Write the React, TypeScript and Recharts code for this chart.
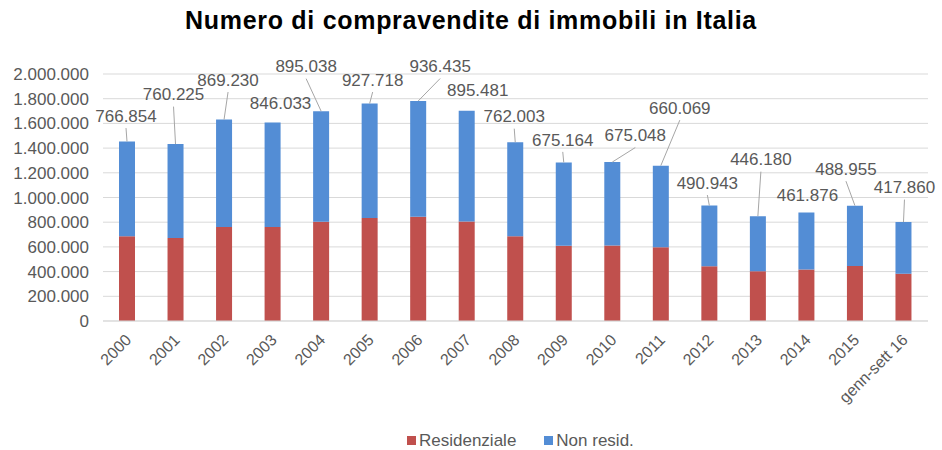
import { Bar, BarChart, CartesianGrid, LabelList, Legend, XAxis, YAxis } from "recharts";

const years = [
  "2000", "2001", "2002", "2003", "2004", "2005", "2006", "2007", "2008",
  "2009", "2010", "2011", "2012", "2013", "2014", "2015", "genn-sett 16",
];
const residenziale = [
  686000, 672000, 762000, 762000, 804000, 833000, 845000, 806000, 686000,
  609000, 612000, 598000, 444000, 403000, 417000, 445000, 383000,
];
const nonResid = [
  766854, 760225, 869230, 846033, 895038, 927718, 936435, 895481, 762003,
  675164, 675048, 660069, 490943, 446180, 461876, 488955, 417860,
];
const yTicks = [0, 200000, 400000, 600000, 800000, 1000000, 1200000, 1400000, 1600000, 1800000, 2000000];

// where each value label sits, measured from the top of its bar (dx, dy to the label centre)
const labelOffsets: [number, number][] = [
  [-1, -26], [-2, -50], [4, -40], [8, -20], [-15, -45], [3, -24], [22, -35], [11, -21], [-1, -26],
  [-1, -23], [23, -27], [19, -58], [-2, -23], [3, -57], [1, -18], [-9, -37], [1, -35],
];

const data = years.map((name, i) => ({ name, res: residenziale[i], non: nonResid[i] }));

const RED = "#C0504D";
const BLUE = "#538DD5";
const TEXT = "#595959";

// no scrollbars, no body margin: the chart fills the window
document.documentElement.style.overflow = "hidden";
document.body.style.margin = "0";
document.body.style.overflow = "hidden";

const fmt = (v: number) => String(v).replace(/\B(?=(\d{3})+(?!\d))/g, ".");

function ValueLabel(props: any) {
  const vb = props.viewBox ?? props;
  const x = Number(vb.x ?? props.x);
  const y = Number(vb.y ?? props.y);
  const width = Number(vb.width ?? props.width);
  const { value, index } = props;
  const [dx, dy] = labelOffsets[index] ?? [0, -20];
  const cx = x + width / 2;
  const tx = cx + dx;
  const ty = y + dy;
  const lineEnd = ty + 12.5;
  const showLine = y - lineEnd > 8.5;
  return (
    <g>
      {showLine && <line x1={cx} y1={y} x2={tx} y2={lineEnd} stroke="#A6A6A6" strokeWidth={1} />}
      <text x={tx} y={ty} dy="0.36em" textAnchor="middle" fontSize={17} fill={TEXT}>
        {fmt(Number(value))}
      </text>
    </g>
  );
}

function YearTick({ x, y, payload }: any) {
  return (
    <g transform={`translate(${x + 5},${y + 20})`}>
      <text x={0} y={0} textAnchor="end" transform="rotate(-45)" fontSize={16} fill={TEXT}>
        {payload.value}
      </text>
    </g>
  );
}

function LegendBox() {
  const items = [
    { label: "Residenziale", color: RED },
    { label: "Non resid.", color: BLUE },
  ];
  return (
    <div
      style={{
        width: 928,
        height: 24,
        display: "flex",
        alignItems: "center",
        paddingLeft: 407,
        paddingTop: 4,
        boxSizing: "border-box",
        fontSize: 17,
        lineHeight: "19px",
        color: TEXT,
        gap: 28,
      }}
    >
      {items.map((it) => (
        <span key={it.label} style={{ display: "flex", alignItems: "center" }}>
          <span style={{ width: 9, height: 9, background: it.color, marginRight: 3 }} />
          {it.label}
        </span>
      ))}
    </div>
  );
}

export default function App() {
  return (
    <div
      style={{
        position: "relative",
        width: 942,
        height: 450,
        overflow: "hidden",
        background: "#fff",
        fontFamily: "'Liberation Sans', Arial, sans-serif",
      }}
    >
      <div
        style={{
          position: "absolute",
          top: 5,
          left: 0,
          width: 942,
          textAlign: "center",
          fontWeight: "bold",
          fontSize: 25,
          lineHeight: "30px",
          letterSpacing: 0.7,
          color: "#000",
        }}
      >
        Numero di compravendite di immobili in Italia
      </div>
      <BarChart width={942} height={450} data={data} margin={{ top: 74, right: 14, left: 0, bottom: 0 }}>
        <CartesianGrid vertical={false} stroke="#D9D9D9" />
        <XAxis
          dataKey="name"
          interval={0}
          height={105}
          tickSize={0}
          tickMargin={0}
          tickLine={false}
          axisLine={{ stroke: "#D9D9D9" }}
          tick={<YearTick />}
        />
        <YAxis
          width={103}
          domain={[0, 2000000]}
          ticks={yTicks}
          interval={0}
          tickFormatter={fmt}
          tickSize={0}
          tickMargin={14}
          tickLine={false}
          axisLine={false}
          tick={{ fontSize: 17, fill: TEXT }}
        />
        <Legend verticalAlign="bottom" height={24} content={<LegendBox />} />
        <Bar dataKey="res" name="Residenziale" stackId="a" fill={RED} barSize={16} isAnimationActive={false} />
        <Bar dataKey="non" name="Non resid." stackId="a" fill={BLUE} barSize={16} isAnimationActive={false}>
          <LabelList dataKey="non" content={<ValueLabel />} />
        </Bar>
      </BarChart>
    </div>
  );
}
